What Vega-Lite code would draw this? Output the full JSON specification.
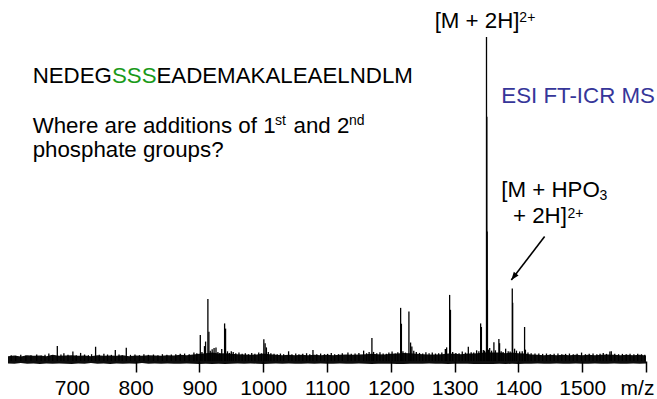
{
  "$schema": "https://vega.github.io/schema/vega-lite/v6.json",
  "autosize": "none",
  "padding": {"left": 8, "top": 37, "right": 11, "bottom": 38},
  "width": 638,
  "height": 324,
  "config": {"view": {"stroke": null}, "font": "Liberation Sans"},
  "datasets": {
    "peaks": [
      {"mz":605,"v":1.8},{"mz":612,"v":1.6},{"mz":620,"v":1.9},{"mz":628,"v":1.7},{"mz":636,"v":1.8},{"mz":645,"v":2.0},{"mz":652,"v":1.7},{"mz":658,"v":1.9},{"mz":664,"v":2.3},{"mz":670,"v":1.8},{"mz":677.3,"v":4.6},{"mz":683,"v":2.0},{"mz":687.6,"v":2.4},{"mz":694,"v":1.9},{"mz":701.7,"v":2.9},{"mz":707,"v":1.8},{"mz":713.8,"v":2.5},{"mz":720,"v":2.0},{"mz":726,"v":1.8},{"mz":731,"v":2.1},{"mz":737.3,"v":4.4},{"mz":743,"v":1.9},{"mz":750.3,"v":2.2},{"mz":756,"v":2.0},{"mz":762,"v":1.9},{"mz":768.2,"v":3.4},{"mz":774,"v":2.0},{"mz":779,"v":1.8},{"mz":785.4,"v":4.1},{"mz":792,"v":1.9},{"mz":799,"v":2.0},{"mz":806,"v":1.8},{"mz":813,"v":2.1},{"mz":820,"v":1.9},{"mz":828,"v":2.0},{"mz":835,"v":1.8},{"mz":842,"v":2.1},{"mz":849,"v":1.9},{"mz":856,"v":2.0},{"mz":863,"v":2.1},{"mz":870,"v":2.2},{"mz":876.8,"v":2.3},{"mz":884,"v":2.1},{"mz":891.4,"v":2.6},{"mz":896,"v":2.4},
      {"mz":901.4,"v":8.0},{"mz":904,"v":2.8},{"mz":908,"v":4.6},{"mz":909.7,"v":6.0},{"mz":913.3,"v":19.1},{"mz":914.9,"v":9.0},{"mz":917,"v":3.2},{"mz":920,"v":3.6},{"mz":923,"v":4.0},{"mz":926,"v":4.2},{"mz":929,"v":2.8},{"mz":932,"v":2.5},{"mz":935,"v":3.7},{"mz":939.5,"v":11.6},{"mz":941,"v":10.0},{"mz":944,"v":3.0},{"mz":947,"v":2.5},{"mz":950,"v":3.0},{"mz":953,"v":2.8},{"mz":957,"v":2.4},{"mz":962,"v":2.6},{"mz":967,"v":2.2},{"mz":972,"v":2.4},{"mz":977,"v":2.1},{"mz":982,"v":2.5},{"mz":987,"v":2.2},{"mz":993,"v":2.6},{"mz":997,"v":2.4},
      {"mz":1001,"v":6.7},{"mz":1003,"v":5.5},{"mz":1005,"v":4.2},{"mz":1008,"v":2.8},{"mz":1012,"v":2.4},{"mz":1017,"v":2.2},{"mz":1022,"v":2.1},{"mz":1027,"v":2.3},{"mz":1032,"v":2.1},{"mz":1039.8,"v":3.0},{"mz":1045,"v":2.1},{"mz":1051,"v":2.3},{"mz":1056,"v":2.1},{"mz":1062,"v":2.2},{"mz":1068,"v":2.4},{"mz":1073,"v":2.1},{"mz":1078,"v":3.4},{"mz":1084,"v":2.1},{"mz":1090,"v":2.3},{"mz":1096,"v":2.1},{"mz":1101,"v":2.2},{"mz":1106.7,"v":2.5},{"mz":1112,"v":2.1},{"mz":1118,"v":2.1},{"mz":1124,"v":2.4},{"mz":1132.8,"v":2.6},{"mz":1138,"v":2.2},{"mz":1144,"v":2.3},{"mz":1150,"v":2.5},{"mz":1157.4,"v":3.2},{"mz":1162,"v":2.4},{"mz":1166,"v":2.8},{"mz":1170.4,"v":7.1},{"mz":1173,"v":2.8},{"mz":1178,"v":2.4},{"mz":1183,"v":2.7},{"mz":1188,"v":2.3},{"mz":1193,"v":2.2},{"mz":1197,"v":2.6},{"mz":1202,"v":2.9},{"mz":1207,"v":2.3},{"mz":1211,"v":2.7},{"mz":1215.4,"v":16.4},{"mz":1216.6,"v":11.5},{"mz":1219,"v":3.0},{"mz":1223,"v":2.6},{"mz":1228.4,"v":15.3},{"mz":1231,"v":5.7},{"mz":1233,"v":4.5},{"mz":1236,"v":3.2},{"mz":1240,"v":2.8},{"mz":1245,"v":2.5},{"mz":1250,"v":2.3},{"mz":1255,"v":2.7},{"mz":1260,"v":2.4},{"mz":1265,"v":2.6},{"mz":1270,"v":2.3},{"mz":1275,"v":2.4},{"mz":1280,"v":2.6},{"mz":1285.5,"v":3.7},{"mz":1287.5,"v":4.2},{"mz":1292.2,"v":20.4},{"mz":1293.5,"v":15.8},{"mz":1297,"v":2.8},{"mz":1302,"v":2.5},{"mz":1307,"v":2.4},{"mz":1312,"v":2.9},{"mz":1317,"v":2.6},{"mz":1321.5,"v":4.4},{"mz":1326,"v":2.7},{"mz":1330,"v":2.6},{"mz":1334.5,"v":3.3},{"mz":1338,"v":3.0},{"mz":1340.8,"v":11.6},{"mz":1342,"v":10.5},{"mz":1345,"v":3.4},{"mz":1347,"v":3.2},
      {"mz":1350,"v":100},{"mz":1350.5,"v":75.4},{"mz":1351,"v":40},{"mz":1351.5,"v":21.9},{"mz":1353,"v":3.5},{"mz":1355,"v":4.0},{"mz":1358,"v":3.2},{"mz":1361.6,"v":5.8},{"mz":1364,"v":3.3},{"mz":1369.4,"v":6.8},{"mz":1370.5,"v":5.5},{"mz":1373,"v":3.0},{"mz":1376,"v":2.8},{"mz":1380,"v":3.8},{"mz":1384,"v":3.0},{"mz":1387,"v":2.9},{"mz":1390.4,"v":22.4},{"mz":1391,"v":18},{"mz":1394,"v":3.8},{"mz":1397,"v":3.2},{"mz":1402,"v":2.9},{"mz":1406,"v":3.0},{"mz":1409.7,"v":10.5},{"mz":1411,"v":3.5},{"mz":1415,"v":2.6},{"mz":1420,"v":2.4},{"mz":1426,"v":2.3},{"mz":1432,"v":2.3},{"mz":1438,"v":2.2},{"mz":1444,"v":2.3},{"mz":1450,"v":2.1},{"mz":1456,"v":2.2},{"mz":1462,"v":2.3},{"mz":1468,"v":2.1},{"mz":1474,"v":2.2},{"mz":1480,"v":2.3},{"mz":1486,"v":2.1},{"mz":1492,"v":2.2},{"mz":1499,"v":2.6},{"mz":1505,"v":2.1},{"mz":1511,"v":2.2},{"mz":1517,"v":2.3},{"mz":1523,"v":2.1},{"mz":1528,"v":2.2},{"mz":1533,"v":2.5},{"mz":1538,"v":2.2},{"mz":1543.4,"v":2.9},{"mz":1545.6,"v":3.0},{"mz":1551,"v":2.2},{"mz":1557,"v":2.1},{"mz":1563,"v":2.2},{"mz":1569,"v":2.1},{"mz":1575,"v":2.2},{"mz":1581,"v":2.1},{"mz":1587,"v":2.2},{"mz":1593,"v":2.1},{"mz":1598,"v":1.9}
    ],
    "noise": [
      {"mz":600,"hi":1.5,"lo":-0.75},{"mz":610,"hi":1.7,"lo":-0.85},{"mz":620,"hi":1.4,"lo":-0.65},{"mz":630,"hi":1.8,"lo":-0.85},{"mz":640,"hi":1.6,"lo":-0.75},{"mz":650,"hi":1.7,"lo":-0.95},{"mz":660,"hi":1.5,"lo":-0.75},{"mz":670,"hi":1.9,"lo":-0.85},{"mz":680,"hi":1.6,"lo":-0.75},{"mz":690,"hi":1.7,"lo":-0.85},{"mz":700,"hi":1.8,"lo":-0.95},{"mz":710,"hi":1.6,"lo":-0.75},{"mz":720,"hi":1.7,"lo":-0.85},{"mz":730,"hi":1.5,"lo":-0.65},{"mz":740,"hi":1.8,"lo":-0.85},{"mz":750,"hi":1.6,"lo":-0.75},{"mz":760,"hi":1.7,"lo":-0.95},{"mz":770,"hi":1.6,"lo":-0.75},{"mz":780,"hi":1.8,"lo":-0.85},{"mz":790,"hi":1.5,"lo":-0.75},{"mz":800,"hi":1.7,"lo":-0.85},{"mz":810,"hi":1.6,"lo":-0.65},{"mz":820,"hi":1.8,"lo":-0.85},{"mz":830,"hi":1.7,"lo":-0.75},{"mz":840,"hi":1.6,"lo":-0.85},{"mz":850,"hi":1.8,"lo":-0.75},{"mz":860,"hi":1.7,"lo":-0.85},{"mz":870,"hi":1.9,"lo":-0.85},{"mz":880,"hi":1.8,"lo":-0.75},{"mz":890,"hi":2.0,"lo":-0.85},
      {"mz":900,"hi":2.2,"lo":-0.95},{"mz":910,"hi":2.4,"lo":-0.85},{"mz":920,"hi":2.6,"lo":-0.95},{"mz":930,"hi":2.3,"lo":-0.85},{"mz":940,"hi":2.4,"lo":-0.95},{"mz":950,"hi":2.2,"lo":-0.85},{"mz":960,"hi":2.1,"lo":-0.75},{"mz":970,"hi":2.0,"lo":-0.85},{"mz":980,"hi":1.9,"lo":-0.75},{"mz":990,"hi":2.0,"lo":-0.85},{"mz":1000,"hi":2.3,"lo":-0.95},{"mz":1010,"hi":2.1,"lo":-0.85},{"mz":1020,"hi":1.9,"lo":-0.75},{"mz":1030,"hi":1.8,"lo":-0.85},{"mz":1040,"hi":1.9,"lo":-0.75},{"mz":1050,"hi":1.8,"lo":-0.85},{"mz":1060,"hi":1.9,"lo":-0.85},{"mz":1070,"hi":1.8,"lo":-0.75},{"mz":1080,"hi":1.9,"lo":-0.85},{"mz":1090,"hi":1.8,"lo":-0.75},{"mz":1100,"hi":1.9,"lo":-0.85},{"mz":1110,"hi":1.8,"lo":-0.85},{"mz":1120,"hi":1.9,"lo":-0.75},{"mz":1130,"hi":2.0,"lo":-0.85},{"mz":1140,"hi":1.9,"lo":-0.85},{"mz":1150,"hi":2.0,"lo":-0.75},{"mz":1160,"hi":2.1,"lo":-0.85},{"mz":1170,"hi":2.2,"lo":-0.95},{"mz":1180,"hi":2.1,"lo":-0.85},{"mz":1190,"hi":2.0,"lo":-0.85},
      {"mz":1200,"hi":2.2,"lo":-0.85},{"mz":1210,"hi":2.3,"lo":-0.95},{"mz":1220,"hi":2.5,"lo":-0.95},{"mz":1230,"hi":2.4,"lo":-0.85},{"mz":1240,"hi":2.2,"lo":-0.85},{"mz":1250,"hi":2.1,"lo":-0.85},{"mz":1260,"hi":2.0,"lo":-0.75},{"mz":1270,"hi":2.0,"lo":-0.85},{"mz":1280,"hi":2.1,"lo":-0.85},{"mz":1290,"hi":2.3,"lo":-0.95},{"mz":1300,"hi":2.2,"lo":-0.85},{"mz":1310,"hi":2.1,"lo":-0.85},{"mz":1320,"hi":2.3,"lo":-0.85},{"mz":1330,"hi":2.3,"lo":-0.95},{"mz":1340,"hi":2.5,"lo":-0.95},{"mz":1350,"hi":2.7,"lo":-0.95},{"mz":1360,"hi":2.6,"lo":-0.95},{"mz":1370,"hi":2.6,"lo":-0.85},{"mz":1380,"hi":2.4,"lo":-0.95},{"mz":1390,"hi":2.6,"lo":-0.85},{"mz":1400,"hi":2.4,"lo":-0.95},{"mz":1410,"hi":2.3,"lo":-0.85},{"mz":1420,"hi":2.0,"lo":-0.85},{"mz":1430,"hi":1.9,"lo":-0.75},{"mz":1440,"hi":1.8,"lo":-0.85},{"mz":1450,"hi":1.9,"lo":-0.85},{"mz":1460,"hi":1.8,"lo":-0.75},{"mz":1470,"hi":1.9,"lo":-0.85},{"mz":1480,"hi":1.8,"lo":-0.85},{"mz":1490,"hi":1.9,"lo":-0.75},{"mz":1500,"hi":1.8,"lo":-0.85},{"mz":1510,"hi":1.9,"lo":-0.85},{"mz":1520,"hi":1.8,"lo":-0.75},{"mz":1530,"hi":1.9,"lo":-0.85},{"mz":1540,"hi":2.0,"lo":-0.85},{"mz":1550,"hi":1.9,"lo":-0.75},{"mz":1560,"hi":1.8,"lo":-0.85},{"mz":1570,"hi":1.9,"lo":-0.85},{"mz":1580,"hi":1.8,"lo":-0.75},{"mz":1590,"hi":1.9,"lo":-0.85},{"mz":1600,"hi":1.7,"lo":-0.75}
    ],
    "txtBlack": [
      {"text":"NEDEG","mz":638.6,"v":85.8},
      {"text":"EADEMAKALEAELNDLM","mz":832.6,"v":85.8},
      {"text":"Where are additions of 1","mz":638.6,"v":70.3},
      {"text":"and 2","mz":1047.5,"v":70.3},
      {"text":"phosphate groups?","mz":638.6,"v":62.9},
      {"text":"[M + 2H]","mz":1268.7,"v":102.8},
      {"text":"[M + HPO","mz":1373.2,"v":50.5},
      {"text":"+ 2H]","mz":1391.4,"v":42.5}
    ],
    "txtGreen": [{"text":"SSS","mz":762.9,"v":85.8}],
    "txtBlue": [{"text":"ESI FT-ICR MS","mz":1373.2,"v":79.5}],
    "txtSup": [
      {"text":"st","mz":1018.3,"v":72.8},
      {"text":"nd","mz":1134.5,"v":72.8},
      {"text":"2+","mz":1401.5,"v":104.5},
      {"text":"2+","mz":1477.0,"v":44.1}
    ],
    "txtSub": [{"text":"3","mz":1527.0,"v":49.6}],
    "arrow": [{"mz":1441.1,"v":38.4,"mz2":1388.9,"v2":25.0}]
  },
  "layer": [
    {
      "data": {"name": "noise"},
      "mark": {"type": "area", "color": "black", "opacity": 0.95},
      "encoding": {
        "x": {"field": "mz", "type": "quantitative", "scale": {"domain": [600, 1600], "nice": false},
          "axis": {
            "values": [700, 800, 900, 1000, 1100, 1200, 1300, 1400, 1500, 1600],
            "format": "d",
            "labelExpr": "datum.value == 1600 ? 'm/z' : datum.label",
            "domain": false,
            "grid": false,
            "title": null,
            "tickSize": 11,
            "tickWidth": 1.5,
            "tickColor": {"condition": {"test": "datum.value == 700", "value": "transparent"}, "value": "black"},
            "labelFontSize": 21,
            "labelFont": "Liberation Sans",
            "labelColor": "black",
            "labelPadding": 5,
            "labelFlush": false,
            "labelOverlap": false,
            "labelBound": false,
            "labelOffset": {"condition": {"test": "datum.value == 1600", "value": -9}, "value": 0}
          }},
        "y": {"field": "hi", "type": "quantitative", "scale": {"domain": [0, 100], "nice": false, "zero": false}, "axis": null},
        "y2": {"field": "lo"}
      }
    },
    {
      "data": {"name": "peaks"},
      "mark": {"type": "rule", "color": "black", "strokeWidth": 1.3},
      "encoding": {
        "x": {"field": "mz", "type": "quantitative"},
        "y": {"field": "v", "type": "quantitative"},
        "y2": {"datum": 0}
      }
    },
    {
      "data": {"name": "txtBlack"},
      "mark": {"type": "text", "align": "left", "baseline": "alphabetic", "fontSize": 22.3, "font": "Liberation Sans", "color": "black"},
      "encoding": {
        "x": {"field": "mz", "type": "quantitative"},
        "y": {"field": "v", "type": "quantitative"},
        "text": {"field": "text"}
      }
    },
    {
      "data": {"name": "txtGreen"},
      "mark": {"type": "text", "align": "left", "baseline": "alphabetic", "fontSize": 22.3, "font": "Liberation Sans", "color": "#1a9a1a"},
      "encoding": {
        "x": {"field": "mz", "type": "quantitative"},
        "y": {"field": "v", "type": "quantitative"},
        "text": {"field": "text"}
      }
    },
    {
      "data": {"name": "txtBlue"},
      "mark": {"type": "text", "align": "left", "baseline": "alphabetic", "fontSize": 22.3, "font": "Liberation Sans", "color": "#363699"},
      "encoding": {
        "x": {"field": "mz", "type": "quantitative"},
        "y": {"field": "v", "type": "quantitative"},
        "text": {"field": "text"}
      }
    },
    {
      "data": {"name": "txtSup"},
      "mark": {"type": "text", "align": "left", "baseline": "alphabetic", "fontSize": 14, "font": "Liberation Sans", "color": "black"},
      "encoding": {
        "x": {"field": "mz", "type": "quantitative"},
        "y": {"field": "v", "type": "quantitative"},
        "text": {"field": "text"}
      }
    },
    {
      "data": {"name": "txtSub"},
      "mark": {"type": "text", "align": "left", "baseline": "alphabetic", "fontSize": 14, "font": "Liberation Sans", "color": "black"},
      "encoding": {
        "x": {"field": "mz", "type": "quantitative"},
        "y": {"field": "v", "type": "quantitative"},
        "text": {"field": "text"}
      }
    },
    {
      "data": {"name": "arrow"},
      "mark": {"type": "rule", "color": "black", "strokeWidth": 1.6},
      "encoding": {
        "x": {"field": "mz", "type": "quantitative"},
        "y": {"field": "v", "type": "quantitative"},
        "x2": {"field": "mz2"},
        "y2": {"field": "v2"}
      }
    },
    {
      "data": {"name": "arrow"},
      "mark": {"type": "point", "shape": "M0,0 L-0.6,1.6 L0.6,1.6 Z", "filled": true, "color": "black", "size": 100, "opacity": 1, "angle": 217.6},
      "encoding": {
        "x": {"field": "mz2", "type": "quantitative"},
        "y": {"field": "v2", "type": "quantitative"}
      }
    }
  ]
}
